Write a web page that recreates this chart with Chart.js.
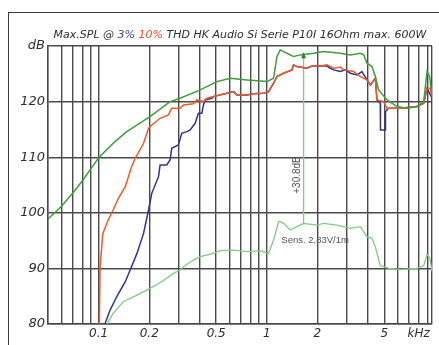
<!DOCTYPE html>
<html><head><meta charset="utf-8">
<script src="https://cdn.jsdelivr.net/npm/chart.js@4"></script>
<style>
html,body{margin:0;padding:0;background:#fff;}
#wrap{position:relative;width:439px;height:345px;overflow:hidden;background:#fff;}
#frame{position:absolute;left:8px;top:12px;width:440px;height:340px;border-left:1.5px solid #3a3a3a;border-top:1.5px solid #3a3a3a;}
#title{position:absolute;left:40px;top:28px;width:400px;text-align:center;font:italic 11px "DejaVu Sans";color:#2e2e2e;white-space:nowrap;}
canvas{position:absolute;left:0;top:0;}
</style></head>
<body><div id="wrap"><div id="frame"></div><canvas id="c" width="439" height="345"></canvas><div id="title">Max.SPL @ <span style="color:#3b3b9b">3%</span> <span style="color:#e8502e">10%</span> THD HK Audio Si Serie P10I 16Ohm max. 600W</div></div>
<script>
// Frequencies in kHz, levels in dB
const greenF = [0.05,0.0598,0.0704,0.0808,0.0902,0.1006,0.125,0.147,0.202,0.266,0.305,0.402,0.505,0.606,0.762,1.002,1.097,1.149,1.202,1.318,1.442,1.581,1.897,2.176,2.736,3.14,3.6,3.77,3.94,4.22,4.42,4.62,5.19,5.95,6.83,7.83,8.57,8.97,9.3,9.6];
const greenDb = [98.9,101.1,103.6,105.9,108.0,110.0,112.8,114.6,117.3,120.0,120.6,122.1,123.6,124.2,123.9,123.6,124.2,128.1,129.3,128.7,128.1,128.4,128.7,129.0,128.7,128.4,128.7,128.4,126.9,126.3,124.5,122.1,120.3,119.1,118.8,119.1,120.0,125.4,124.5,120.9];

const redF = [0.101,0.102,0.106,0.114,0.122,0.131,0.144,0.157,0.165,0.185,0.198,0.207,0.232,0.26,0.272,0.305,0.319,0.366,0.384,0.42,0.44,0.482,0.579,0.634,0.664,0.762,0.833,0.956,1.024,1.097,1.149,1.258,1.411,1.442,1.51,1.733,1.857,2.08,2.28,2.495,2.736,2.862,3.28,3.6,3.94,4.13,4.42,4.52,4.95,5.19,6.23,7.83,8.57,8.97,9.39,9.6];
const redDb = [80,90.3,96.3,98.7,100.5,102.6,104.7,108.3,109.8,112.5,115.2,115.8,117.0,117.6,118.8,118.8,119.4,119.6,120.3,120.0,120.6,120.9,121.5,121.8,121.2,121.2,121.4,121.5,121.8,123.3,124.5,125.1,125.7,126.6,126.3,126.0,126.4,126.4,126.6,126.0,126.2,125.7,125.4,124.5,123.9,123.0,124.2,120.3,120.0,118.8,118.8,119.1,119.7,122.4,122.4,120.9];

const blueF = [0.109,0.117,0.128,0.144,0.154,0.169,0.185,0.198,0.207,0.227,0.232,0.254,0.266,0.272,0.298,0.312,0.335,0.35,0.375,0.392,0.411,0.42,0.43,0.471,0.482,0.579,0.634,0.664,0.762,0.833,0.956,1.024,1.097,1.149,1.258,1.411,1.442,1.51,1.733,1.857,2.08,2.28,2.385,2.495,2.736,2.93,3.14,3.44,3.68,3.94,4.13,4.42,4.52,4.73,4.74,5.07,5.08,5.3,6.23,7.83,8.57,8.97,9.39,9.6];
const blueDb = [80,82.5,84.9,87.6,89.7,92.7,96.3,100.5,103.5,106.5,108.6,108.6,109.5,111.6,112.2,114.3,114.6,114.9,116.1,117.9,117.9,119.4,120.3,120.6,120.9,121.5,121.8,121.2,121.2,121.4,121.5,121.8,123.3,124.5,125.1,125.7,126.6,126.3,126.0,126.4,126.4,126.4,126.0,125.7,125.4,125.7,125.1,124.8,125.4,123.9,123.0,124.2,120.3,119.7,114.9,114.9,118.2,118.8,118.8,119.1,119.7,122.4,121.2,120.6];

const sensF = [0.112,0.122,0.140,0.169,0.202,0.237,0.279,0.305,0.319,0.366,0.402,0.482,0.528,0.634,0.762,0.914,1.024,1.097,1.175,1.202,1.258,1.379,1.51,1.655,1.986,2.176,2.615,3.14,3.6,3.94,4.22,4.42,4.73,5.3,6.23,7.83,8.57,8.97,9.3,9.6];
const sensDb = [80,81.9,84.0,85.2,86.4,87.6,89.1,89.7,90.3,91.5,92.1,92.7,93.2,93.3,93.0,93.2,92.7,95.1,98.4,98.4,98.1,96.9,97.5,98.1,97.8,98.1,97.8,97.2,97.5,95.7,95.4,93.9,90.5,90.0,89.8,90.0,90.5,92.5,92.0,89.5];

const markerF = [1.655,1.655];
const markerDb = [97.9,128.7];

const xGrid = [0.05,0.06,0.07,0.08,0.09,0.1,0.2,0.3,0.4,0.5,0.6,0.7,0.8,0.9,1,2,3,4,5,6,7,8,9,9.6];
const xLabels = {0.1:'0.1',0.2:'0.2',0.5:'0.5',1:'1',2:'2',5:'5',8:'kHz'};
const yMin = 80, yMax = 130, yStep = 10;

const pts = (F,D)=>F.map((f,i)=>({x:f,y:D[i]}));

const annot = {
  id:'annot',
  afterDatasetsDraw(chart){
    const ctx = chart.ctx, xs = chart.scales.x, ys = chart.scales.y;
    const px = xs.getPixelForValue(markerF[0]);
    const ptop = ys.getPixelForValue(markerDb[1]);
    ctx.save();
    ctx.fillStyle = '#2e7d2e';
    ctx.beginPath();
    ctx.moveTo(px, ptop-1); ctx.lineTo(px-2.5, ptop+5); ctx.lineTo(px+2.5, ptop+5); ctx.closePath(); ctx.fill();
    ctx.fillStyle = '#555';
    ctx.font = '10px "Liberation Sans"';
    ctx.translate(px-6, ys.getPixelForValue(106.8));
    ctx.rotate(-Math.PI/2);
    ctx.textAlign='center'; ctx.textBaseline='middle';
    ctx.fillText('+30.8dB', 0, 0);
    ctx.restore();
    ctx.save();
    ctx.fillStyle = '#555';
    ctx.font = '9.5px "Liberation Sans"';
    ctx.textAlign='left'; ctx.textBaseline='middle';
    ctx.fillText('Sens. 2,83V/1m', xs.getPixelForValue(1.22), ys.getPixelForValue(95.1));
    ctx.restore();
  }
};

new Chart(document.getElementById('c'), {
  type:'line',
  data:{datasets:[
    {data:pts(sensF,sensDb), borderColor:'#86c886', borderWidth:1.3, order:3},
    {data:pts(markerF,markerDb), borderColor:'#86c886', borderWidth:1.3, order:3},
    {data:pts(blueF,blueDb), borderColor:'#34348a', borderWidth:1.5, order:2},
    {data:pts(redF,redDb), borderColor:'#ee5a2c', borderWidth:1.5, order:1},
    {data:pts(greenF,greenDb), borderColor:'#3f9e3f', borderWidth:1.5, order:0}
  ]},
  options:{
    responsive:false, animation:false,
    layout:{padding:{left:0,right:7,top:46,bottom:0}},
    elements:{point:{radius:0},line:{tension:0}},
    plugins:{legend:{display:false},tooltip:{enabled:false}},
    scales:{
      x:{type:'logarithmic', min:0.05, max:9.6,
        afterBuildTicks(s){ s.ticks = xGrid.map(v=>({value:v})); },
        afterFit(s){ s.height = 21; },
        ticks:{autoSkip:false, maxRotation:0, minRotation:0, padding:3, color:'#2e2e2e',
          font:{family:'DejaVu Sans', size:12, style:'italic'},
          callback(v){ for(const k in xLabels){ if(Math.abs(v-parseFloat(k))<1e-6) return xLabels[k]; } return ''; }},
        grid:{color:'#4a4a4a', lineWidth:1.4, drawTicks:false},
        border:{display:true, color:'#4a4a4a', width:1.4}
      },
      y:{min:yMin, max:yMax,
        afterFit(s){ s.width = 48; },
        ticks:{stepSize:yStep, padding:3, color:'#2e2e2e',
          font:{family:'DejaVu Sans', size:13, style:'italic'},
          callback(v){ return v===130 ? 'dB' : String(v); }},
        grid:{color:'#4a4a4a', lineWidth:1.4, drawTicks:false},
        border:{display:true, color:'#4a4a4a', width:1.4}
      }
    }
  },
  plugins:[annot]
});
</script>
</body></html>
